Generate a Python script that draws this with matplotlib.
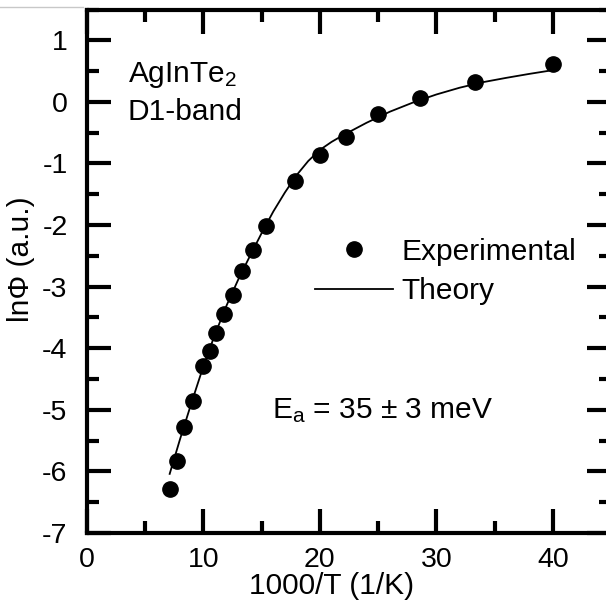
import matplotlib
matplotlib.use("Agg")
import matplotlib.pyplot as plt
from matplotlib.lines import Line2D
from matplotlib.ticker import MultipleLocator

plt.rcParams["font.family"] = ["Liberation Sans", "DejaVu Sans"]
plt.rcParams["mathtext.fontset"] = "custom"
plt.rcParams["mathtext.rm"] = "Liberation Sans"
plt.rcParams["mathtext.default"] = "regular"
plt.rcParams["axes.unicode_minus"] = False

# measured points, x = 1000/T
inv_t = [7.14, 7.69, 8.33, 9.09, 10.0, 10.53, 11.11, 11.76, 12.5, 13.33,
         14.29, 15.38, 17.86, 20.0, 22.22, 25.0, 28.57, 33.33, 40.0]
ln_phi = [-6.29, -5.83, -5.28, -4.86, -4.29, -4.05, -3.75, -3.44, -3.14, -2.74,
          -2.41, -2.02, -1.28, -0.86, -0.57, -0.19, 0.06, 0.33, 0.61]

# fitted curve
fit_x = [7.1, 8, 9, 10, 11, 12, 13, 14, 15, 16, 17, 18, 19, 20, 21, 22,
         24, 26, 28, 30, 32, 34, 36, 38, 40]
fit_y = [-6.04, -5.47, -4.87, -4.29, -3.77, -3.30, -2.88, -2.50, -2.13, -1.78,
         -1.47, -1.19, -0.96, -0.78, -0.65, -0.54, -0.34, -0.16, -0.01, 0.12,
         0.23, 0.32, 0.39, 0.455, 0.515]

tick_fs = 20.5
fs = 21.5
fig = plt.figure(figsize=(6.06, 6.10), dpi=100)
ax = fig.add_axes([87 / 606, 77 / 610, 524 / 606, 523.5 / 610])

ax.plot(inv_t, ln_phi, "o", color="black", markersize=11, label="Experimental")
ax.plot(fit_x, fit_y, "-", color="black", linewidth=1.3, label="Theory")

ax.set_xlim(0, 45)
ax.set_ylim(-7, 1.5)
ax.xaxis.set_major_locator(MultipleLocator(10))
ax.xaxis.set_minor_locator(MultipleLocator(5))
ax.yaxis.set_major_locator(MultipleLocator(1))
ax.yaxis.set_minor_locator(MultipleLocator(0.5))
ax.tick_params(which="both", direction="in", top=True, right=True,
               width=3, labelsize=tick_fs)
ax.tick_params(which="major", length=17)
ax.tick_params(which="minor", length=8.5)
ax.tick_params(axis="x", which="major", pad=10)
ax.tick_params(axis="y", which="major", pad=14)
for sp in ax.spines.values():
    sp.set_linewidth(3)

ax.set_xlabel("1000/T (1/K)", fontsize=fs)
ax.xaxis.set_label_coords(0.466, -0.075)
ax.set_ylabel("ln\u03a6 (a.u.)", fontsize=fs)
ax.yaxis.set_label_coords(-0.099, 0.523)

ax.text(41 / 524, 1 - 73 / 523.5, "AgInTe$_2$", transform=ax.transAxes,
        fontsize=fs, va="baseline")
ax.text(41 / 524, 1 - 111 / 523.5, "D1-band", transform=ax.transAxes,
        fontsize=fs, va="baseline")
ax.text(185 / 524, 1 - 409 / 523.5, "E$_a$ = 35 \u00b1 3 meV",
        transform=ax.transAxes, fontsize=fs, va="baseline")

ax.legend(loc="upper left", bbox_to_anchor=(228 / 524, 1 - 228 / 523.5),
          frameon=False, fontsize=fs, handlelength=2.6, handletextpad=0.3,
          labelspacing=0.4, borderaxespad=0, borderpad=0, numpoints=1)

# thin grey rule along the top-left edge
fig.add_artist(Line2D([0, 83 / 606], [1 - 7 / 610, 1 - 7 / 610],
                      color="#c8c8c8", linewidth=1))

fig.savefig("out.png", dpi=100)
